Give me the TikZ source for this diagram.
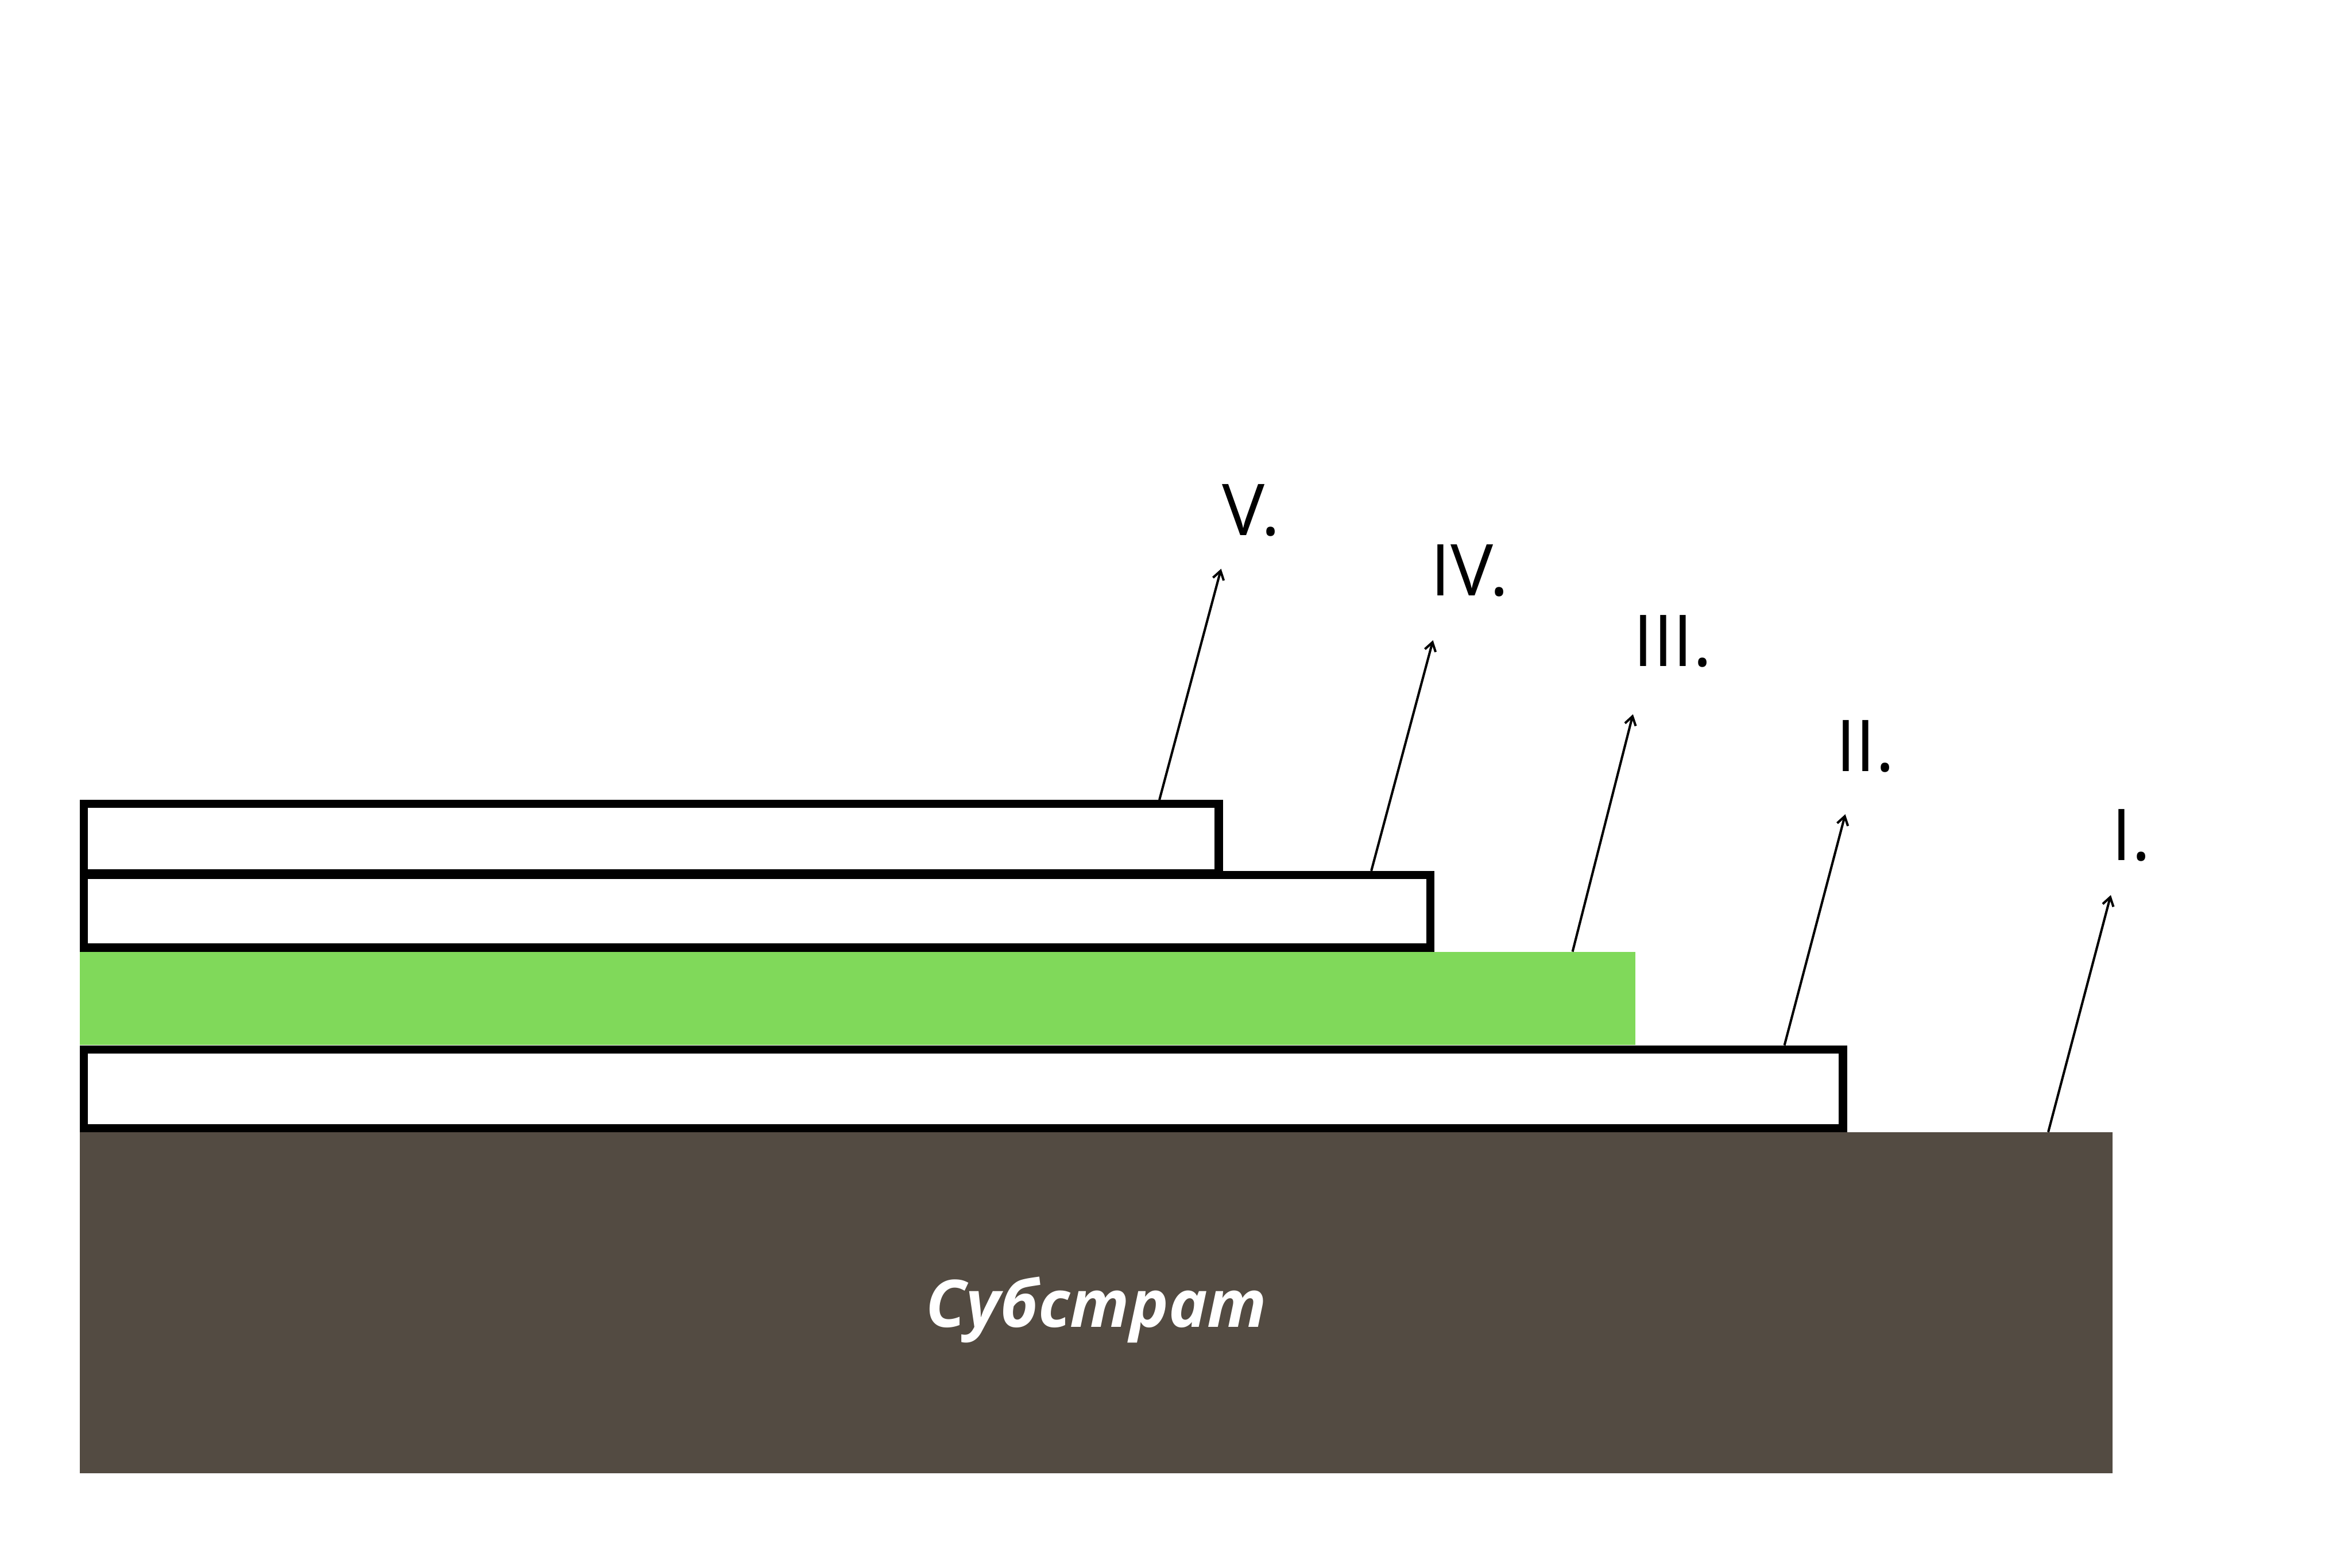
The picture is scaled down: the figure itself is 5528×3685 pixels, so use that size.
\documentclass[tikz,border=0pt]{standalone}
\usepackage{fontspec}
\setmainfont{Open Sans}
\usetikzlibrary{arrows.meta}
\definecolor{substr}{RGB}{83,75,66}
\definecolor{lgreen}{RGB}{128,217,90}
\tikzset{
  layerbox/.style={draw=black, line width=0.19cm, fill=white},
  pointer/.style={draw=black, line width=0.055cm, -{Straight Barb[length=0.2cm,width=0.26cm]}},
  lbl/.style={anchor=base west, inner sep=0pt, font=\fontsize{47.8}{57}\selectfont},
}
\begin{document}
\begin{tikzpicture}[x=0.01cm,y=-0.01cm]
\useasboundingbox (0,0) rectangle (5528,3685);
% substrate
\fill[substr] (188,2661) rectangle (4965,3463);
\node[anchor=base, inner sep=0pt, text=white, font=\fontsize{43.8}{52}\selectfont\bfseries\itshape] (sub) at (2577,3119) {Субстрат};
% green layer
\fill[lgreen] (188,2237) rectangle (3843,2456);
% layer boxes
\draw[layerbox] (197.5,2466.5) rectangle (4331.5,2651.5);
\draw[layerbox] (197.5,2056.5) rectangle (3361.5,2227.5);
\draw[layerbox] (197.5,1889.5) rectangle (2864.5,2052.5);
% arrow coordinates
\coordinate (s5) at (2725,1880); \coordinate (t5) at (2870,1337);
\coordinate (s4) at (3223,2047); \coordinate (t4) at (3368,1505);
\coordinate (s3) at (3696,2237); \coordinate (t3) at (3838,1679);
\coordinate (s2) at (4194,2457); \coordinate (t2) at (4337,1914);
\coordinate (s1) at (4814,2661); \coordinate (t1) at (4961,2104);
\draw[pointer] (s5) -- (t5);
\draw[pointer] (s4) -- (t4);
\draw[pointer] (s3) -- (t3);
\draw[pointer] (s2) -- (t2);
\draw[pointer] (s1) -- (t1);
% labels
\node[lbl] (l5) at (2872,1259) {V.};
\node[lbl] (l4) at (3362,1400) {IV.};
\node[lbl] (l3) at (3838,1566) {III.};
\node[lbl] (l2) at (4314,1813) {II.};
\node[lbl] (l1) at (4963,2023) {I.};
\end{tikzpicture}
\end{document}
